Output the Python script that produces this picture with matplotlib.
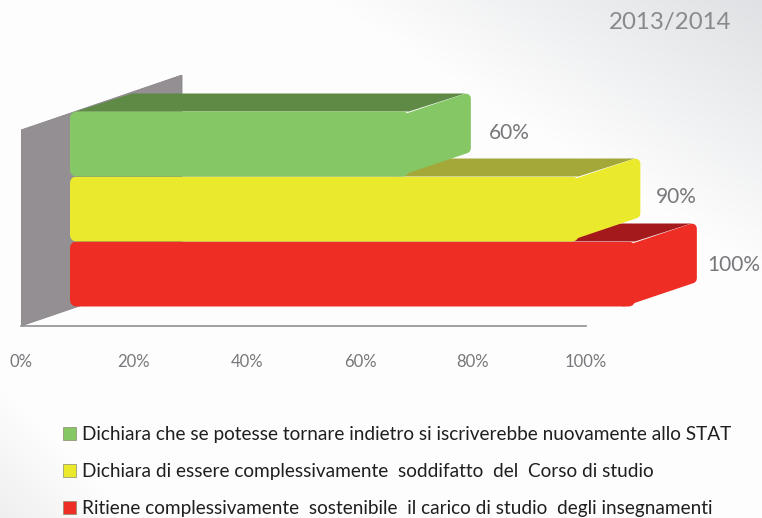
import numpy as np
import matplotlib
matplotlib.use("Agg")
import matplotlib.pyplot as plt
from matplotlib.patches import FancyBboxPatch, Polygon, Patch

plt.rcParams["font.family"] = ["Lato", "DejaVu Sans"]

# bottom row first, as barh draws them
categories = ["Ritiene complessivamente  sostenibile  il carico di studio  degli insegnamenti",
              "Dichiara di essere complessivamente  soddifatto  del  Corso di studio",
              "Dichiara che se potesse tornare indietro si iscriverebbe nuovamente allo STAT"]
values = [100, 90, 60]
front_colors = ["#ee2d25", "#ebe92c", "#85c765"]
top_colors = ["#a4191c", "#a3a838", "#5e8a45"]
xticks = [0, 20, 40, 60, 80, 100]
xticklabels = ["0%", "20%", "40%", "60%", "80%", "100%"]
label_offsets = [(10, 9), (15, 12), (18, 11)]

W, H = 762, 518
fig = plt.figure(figsize=(W / 100, H / 100), dpi=100)

# background shading, grey in the top right corner and a little bottom left
bg = fig.add_axes([0, 0, 1, 1], zorder=-1)
xx, yy = np.meshgrid(np.arange(W), np.arange(H))
corner = np.clip(1 - (W - xx) / 430 - yy / 270, 0, 1)
low = np.clip(1 - xx / 130 - (H - yy) / 130, 0, 1)
shade = 253 - 30 * corner - 14 * low
bg.imshow(np.dstack([shade, shade + 2 * corner, shade + 5 * corner]).astype(np.uint8), aspect="auto")
bg.axis("off")

# plot area: 0% at x=21, 100% at x=586, floor at y=326, top of wall at y=75
ax = fig.add_axes([21 / W, (H - 326) / H, 565 / W, 251 / H])
ax.patch.set_alpha(0)
ax.set_xlim(0, 100)
ux = 565 / 100  # pixels per x unit
uy = 65  # pixels per row
ax.set_ylim(-52 / uy, -52 / uy + 251 / uy)

ax.add_patch(Polygon([(0, 0), (0, 196 / 251), (161 / 565, 1), (161 / 565, 55 / 251)],
                     transform=ax.transAxes, facecolor="#948f93", edgecolor="#8a868a",
                     linewidth=0.6, zorder=1))

x0 = 49 / ux  # the bars start off the wall
dx = 62 / ux
dy = 18 / uy
rows = np.arange(len(values))
bars = ax.barh(rows, values, height=1, left=x0, color=front_colors, zorder=5)

for i, bar in enumerate(bars):
    z = 5 + i
    right = x0 + values[i]
    y0, y1 = i - 0.5, i + 0.5
    # top face
    ax.add_patch(Polygon([(x0 + 1, y1), (x0 + dx, y1 + dy), (right + dx - 1, y1 + dy), (right, y1)],
                         facecolor=top_colors[i], edgecolor="none", zorder=z, clip_on=False))
    # right face, the thick round edge gives the soft corners
    inset_x, inset_y = 5 / ux, 5 / uy
    ax.add_patch(Polygon([(right - 2, y1 - 2 * inset_y), (right + dx - inset_x, y1 + dy - inset_y),
                          (right + dx - inset_x, y0 + dy + 2 * inset_y), (right - 2, y0 + inset_y)],
                         facecolor=front_colors[i], edgecolor=front_colors[i], linewidth=7,
                         joinstyle="round", zorder=z, clip_on=False))
    # front face with rounded corners
    r = 7 / ux
    box = FancyBboxPatch((x0, y0), values[i], 1, boxstyle=f"round,pad=0,rounding_size={r}",
                         mutation_aspect=(7 / uy) / r, transform=ax.transData)
    bar.set_zorder(z + 0.5)
    bar.set_clip_path(box)
    bar.set_clip_box(None)
    ax.annotate(f"{values[i]}%", (right + dx, i), xytext=label_offsets[i],
                textcoords="offset pixels", ha="left", va="center", fontsize=15, color="#77787b",
                zorder=20, annotation_clip=False)

for s in ["top", "left", "right"]:
    ax.spines[s].set_visible(False)
ax.spines["bottom"].set_color("#8f8f93")
ax.spines["bottom"].set_linewidth(1.2)
ax.set_yticks([])
ax.set_xticks(xticks)
ax.set_xticklabels(xticklabels, fontsize=12, color="#77787b")
ax.tick_params(axis="x", length=0, pad=20)

fig.text(731 / W, 1 - 22 / H, "2013/2014", ha="right", va="center", fontsize=17.3, color="#8a8a8a")

handles = [Patch(facecolor=front_colors[i], edgecolor="#8a8a70", linewidth=0.5, label=categories[i])
           for i in [2, 1, 0]]
fig.legend(handles=handles, loc="upper left", bbox_to_anchor=(55 / W, 1 - 418.5 / H), frameon=False,
           fontsize=13.7, labelcolor="#1f1f1f", handlelength=0.72, handleheight=0.72,
           handletextpad=0.3, labelspacing=1.05, borderpad=0.4, borderaxespad=0)

fig.savefig("out.png", dpi=100)
